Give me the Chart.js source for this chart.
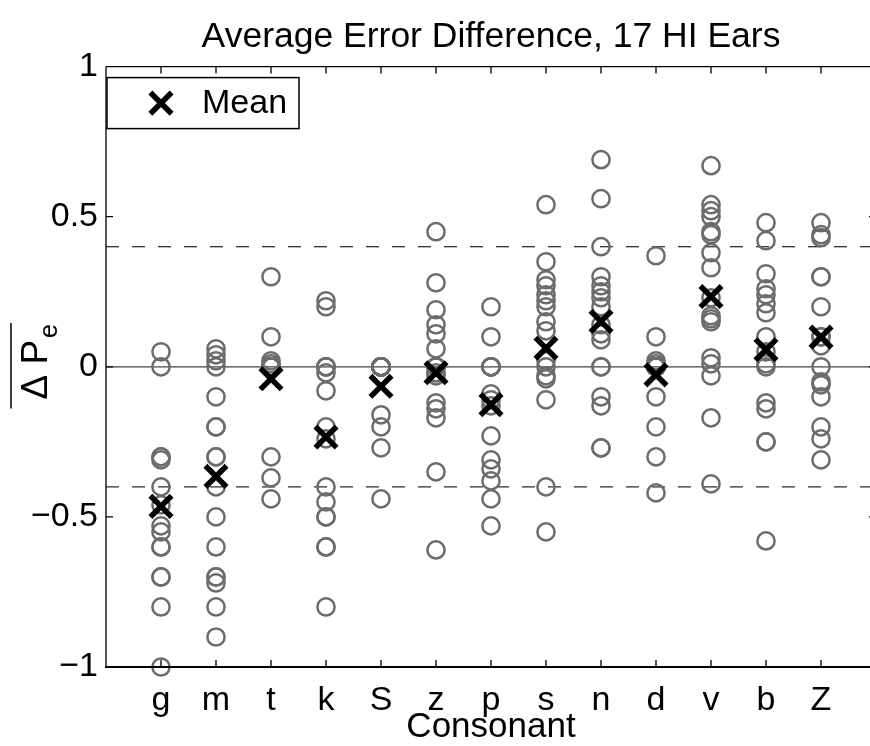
<!DOCTYPE html>
<html>
<head>
<meta charset="utf-8">
<script src="https://cdn.jsdelivr.net/npm/chart.js@4.4.1/dist/chart.umd.min.js"></script>
<style>
  html, body { margin: 0; padding: 0; background: #fff; overflow: hidden; }
  #wrap { width: 900px; height: 746px; }
</style>
</head>
<body>
<div id="wrap"><canvas id="errChart" width="900" height="746"></canvas></div>
<script>
// consonants along x, one column of ears per consonant
const consonants = ['g', 'm', 't', 'k', 'S', 'z', 'p', 's', 'n', 'd', 'v', 'b', 'Z'];

// per-ear error difference, same order as consonants
const earDiffs = [
  [0.05, 0, -0.30, -0.30, -0.31, -0.40, -0.46, -0.53, -0.55, -0.60, -0.60, -0.70, -0.70, -0.80, -1.00],
  [0.06, 0.04, 0.02, 0, -0.10, -0.20, -0.20, -0.30, -0.30, -0.40, -0.50, -0.60, -0.70, -0.70, -0.72, -0.80, -0.90],
  [0.30, 0.10, 0.02, 0.01, 0, 0, 0, 0, 0, 0, 0, 0, 0, 0, -0.30, -0.37, -0.44],
  [0.22, 0.20, 0, 0, 0, -0.02, -0.08, -0.20, -0.24, -0.40, -0.45, -0.50, -0.50, -0.60, -0.60, -0.80],
  [0, 0, 0, 0, 0, 0, 0, 0, 0, 0, 0, 0, 0, -0.16, -0.20, -0.27, -0.44],
  [0.45, 0.28, 0.19, 0.14, 0.11, 0.06, 0, 0, 0, -0.02, -0.03, -0.12, -0.14, -0.17, -0.35, -0.61],
  [0.20, 0.10, 0, 0, 0, 0, -0.09, -0.11, -0.13, -0.23, -0.31, -0.34, -0.38, -0.44, -0.53],
  [0.54, 0.35, 0.29, 0.27, 0.24, 0.22, 0.20, 0.15, 0.12, 0.02, 0, -0.03, -0.04, -0.11, -0.40, -0.55],
  [0.69, 0.56, 0.40, 0.30, 0.27, 0.25, 0.23, 0.20, 0.14, 0.11, 0.09, 0, 0, -0.10, -0.13, -0.27, -0.27],
  [0.37, 0.10, 0.02, 0.01, 0, 0, 0, 0, 0, 0, 0, 0, 0, -0.10, -0.20, -0.30, -0.42],
  [0.67, 0.54, 0.52, 0.50, 0.45, 0.44, 0.38, 0.33, 0.23, 0.17, 0.16, 0.15, 0.03, 0.01, -0.03, -0.17, -0.39],
  [0.48, 0.42, 0.31, 0.26, 0.24, 0.21, 0.18, 0.10, 0.05, 0.01, 0, -0.12, -0.14, -0.25, -0.25, -0.58],
  [0.48, 0.44, 0.43, 0.30, 0.30, 0.20, 0.10, 0.10, 0.07, 0, -0.05, -0.06, -0.10, -0.20, -0.24, -0.31]
];

// mean over the 17 ears
const meanDiffs = [-0.465, -0.365, -0.04, -0.234, -0.065, -0.02, -0.126, 0.062, 0.151, -0.027, 0.234, 0.057, 0.099];

const bandLimits = [0.4, -0.4];
const yTicks = [-1, -0.5, 0, 0.5, 1];

const FONT = '"Liberation Sans", Arial, Helvetica, sans-serif';
const X_MAX = 14;

// flatten ear values into scatter points
const earPoints = [];
earDiffs.forEach((vals, i) => {
    vals.forEach(v => earPoints.push({ x: i + 1, y: v }));
});
const meanPoints = meanDiffs.map((v, i) => ({ x: i + 1, y: v }));

const hLine = (yv) => [{ x: 0, y: yv }, { x: X_MAX, y: yv }];

// box + inward tick marks on every side
const frameTicks = {
    id: 'frameTicks',
    afterDatasetsDraw(chart) {
        const { ctx, chartArea: a, scales: { x, y } } = chart;
        ctx.save();
        ctx.strokeStyle = '#000';
        ctx.lineWidth = 1.3;
        ctx.beginPath();
        ctx.moveTo(a.left, a.top); ctx.lineTo(a.right, a.top);
        ctx.moveTo(a.right, a.top); ctx.lineTo(a.right, a.bottom);
        ctx.moveTo(a.left, a.top); ctx.lineTo(a.left, a.bottom);
        consonants.forEach((c, i) => {
            const px = x.getPixelForValue(i + 1);
            ctx.moveTo(px, a.top); ctx.lineTo(px, a.top + 7);
            ctx.moveTo(px, a.bottom); ctx.lineTo(px, a.bottom - 7);
        });
        yTicks.forEach(v => {
            const py = y.getPixelForValue(v);
            ctx.moveTo(a.left, py); ctx.lineTo(a.left + 7, py);
            ctx.moveTo(a.right, py); ctx.lineTo(a.right - 7, py);
        });
        ctx.stroke();
        ctx.lineWidth = 2.2;
        ctx.beginPath();
        ctx.moveTo(a.left - 1, a.bottom); ctx.lineTo(a.right, a.bottom);
        ctx.stroke();
        ctx.restore();
    }
};

// rotated y label: overlined "Δ P" with subscript e
const yLabel = {
    id: 'yLabel',
    afterDraw(chart) {
        const { ctx, chartArea: a } = chart;
        const cy = (a.top + a.bottom) / 2 - 5;
        ctx.save();
        ctx.translate(35, cy);
        ctx.rotate(-Math.PI / 2);
        ctx.fillStyle = '#000';
        ctx.textBaseline = 'alphabetic';
        ctx.font = '37px ' + FONT;
        const main = '\u0394 P';
        const wMain = ctx.measureText(main).width;
        ctx.font = '25px ' + FONT;
        const wSub = ctx.measureText('e').width;
        const total = wMain + wSub + 2;
        const x0 = -total / 2;
        ctx.font = '37px ' + FONT;
        ctx.fillText(main, x0, 12);
        ctx.font = '25px ' + FONT;
        ctx.fillText('e', x0 + wMain + 2, 22);
        ctx.strokeStyle = '#000';
        ctx.lineWidth = 1.5;
        ctx.beginPath();
        ctx.moveTo(x0 - 9, -24);
        ctx.lineTo(x0 + total + 1, -24);
        ctx.stroke();
        ctx.restore();
    }
};

// boxed legend in the upper-left corner of the axes
const meanLegend = {
    id: 'meanLegend',
    afterDraw(chart) {
        const { ctx, chartArea: a } = chart;
        const ds = chart.data.datasets[0];
        const bx = a.left + 1, by = a.top + 11, bw = 192, bh = 51;
        ctx.save();
        ctx.fillStyle = '#fff';
        ctx.fillRect(bx, by, bw, bh);
        ctx.strokeStyle = '#000';
        ctx.lineWidth = 1.5;
        ctx.strokeRect(bx, by, bw, bh);
        const mx = bx + 54, my = by + bh / 2, h = ds.pointRadius * Math.SQRT1_2;
        ctx.lineWidth = ds.borderWidth;
        ctx.strokeStyle = ds.borderColor;
        ctx.beginPath();
        ctx.moveTo(mx - h, my - h); ctx.lineTo(mx + h, my + h);
        ctx.moveTo(mx + h, my - h); ctx.lineTo(mx - h, my + h);
        ctx.stroke();
        ctx.fillStyle = '#000';
        ctx.font = '34px ' + FONT;
        ctx.textBaseline = 'middle';
        ctx.fillText(ds.label, bx + 95, my + 1);
        ctx.restore();
    }
};

new Chart(document.getElementById('errChart'), {
    type: 'scatter',
    data: {
        datasets: [
            {
                label: 'Mean',
                data: meanPoints,
                pointStyle: 'crossRot',
                pointRadius: 15,
                borderWidth: 5.5,
                borderColor: '#000',
                backgroundColor: '#000',
                clip: false,
                order: 0
            },
            {
                label: 'Ears',
                data: earPoints,
                pointStyle: 'circle',
                pointRadius: 8.6,
                borderWidth: 2.5,
                borderColor: 'rgb(108,108,108)',
                backgroundColor: 'rgba(0,0,0,0)',
                clip: false,
                order: 1
            },
            {
                label: 'zero',
                data: hLine(0),
                showLine: true,
                pointRadius: 0,
                borderColor: '#444',
                borderWidth: 1.3,
                order: 2
            },
            ...bandLimits.map(v => ({
                label: 'band ' + v,
                data: hLine(v),
                showLine: true,
                pointRadius: 0,
                borderColor: '#222',
                borderWidth: 1.2,
                borderDash: [13, 13],
                order: 2
            }))
        ]
    },
    options: {
        responsive: false,
        animation: false,
        devicePixelRatio: 1,
        layout: { padding: { top: 0, right: 24, bottom: 0, left: 0 } },
        plugins: {
            legend: { display: false },
            tooltip: { enabled: false },
            title: {
                display: true,
                fullSize: false,
                text: 'Average Error Difference, 17 HI Ears',
                color: '#000',
                font: { family: FONT, size: 35.5, weight: 'normal' },
                padding: { top: 16, bottom: 8 }
            }
        },
        scales: {
            x: {
                type: 'linear',
                min: 0,
                max: X_MAX,
                afterFit: (scale) => { scale.height = 79; },
                grid: { display: false, drawTicks: false },
                border: { display: false },
                ticks: {
                    stepSize: 1,
                    autoSkip: false,
                    maxRotation: 0,
                    padding: 13,
                    color: '#000',
                    font: { family: FONT, size: 34 },
                    callback: (v) => consonants[v - 1] || ''
                },
                title: {
                    display: true,
                    text: 'Consonant',
                    color: '#000',
                    font: { family: FONT, size: 35, lineHeight: 1 },
                    padding: { top: 0, bottom: 1 }
                }
            },
            y: {
                min: -1,
                max: 1,
                afterFit: (scale) => { scale.width = 106; },
                grid: { display: false, drawTicks: false },
                border: { display: false },
                ticks: {
                    stepSize: 0.5,
                    padding: 8,
                    color: '#000',
                    font: { family: FONT, size: 34 },
                    callback: (v) => v === 0 ? '0' : (v < 0 ? '\u2212' : '') + Math.abs(v)
                }
            }
        }
    },
    plugins: [frameTicks, yLabel, meanLegend]
});
</script>
</body>
</html>
